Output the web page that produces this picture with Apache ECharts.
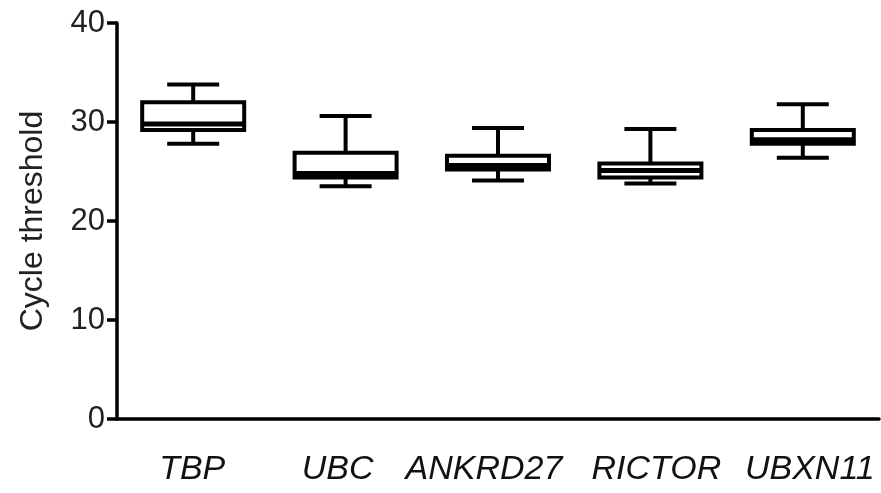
<!DOCTYPE html>
<html>
<head>
<meta charset="utf-8">
<script src="https://cdn.jsdelivr.net/npm/echarts@6/dist/echarts.min.js"></script>
<style>
  html, body { margin: 0; padding: 0; background: #fff; }
  #chart { width: 881px; height: 493px; }
</style>
</head>
<body>
<div id="chart"></div>
<script>
// Reference genes and their Ct distributions (box-and-whisker summary)
const genes = ['TBP', 'UBC', 'ANKRD27', 'RICTOR', 'UBXN11'];
const ctMin    = [27.8, 23.5, 24.1, 23.8, 26.4];
const ctQ1     = [29.2, 24.4, 25.2, 24.4, 27.8];
const ctMedian = [29.8, 24.8, 25.6, 25.1, 28.2];
const ctQ3     = [32.0, 26.9, 26.6, 25.8, 29.2];
const ctMax    = [33.8, 30.6, 29.4, 29.3, 31.8];
const yTicks   = [0, 10, 20, 30, 40];

const boxData = genes.map((g, i) => [i, ctMin[i], ctQ1[i], ctMedian[i], ctQ3[i], ctMax[i]]);

const BOX_W = 102;
const CAP_W = 52;
const LW = 4;

// small horizontal nudges so long gene names keep a gap between them
const labelPad = {
  TBP: [0, 2, 0, 0],
  UBC: [0, 16, 0, 0],
  ANKRD27: [0, 28, 0, 0],
  RICTOR: [0, 0, 0, 12],
  UBXN11: [0, 0, 0, 14]
};
const labelBase = { fontFamily: 'Liberation Sans', fontStyle: 'italic', fontSize: 34, color: '#111' };
const rich = {};
genes.forEach((g, i) => { rich['g' + i] = Object.assign({ padding: labelPad[g] }, labelBase); });

function renderBox(params, api) {
  const idx = api.value(0);
  const pMin = api.coord([idx, api.value(1)]);
  const pQ1  = api.coord([idx, api.value(2)]);
  const pMed = api.coord([idx, api.value(3)]);
  const pQ3  = api.coord([idx, api.value(4)]);
  const pMax = api.coord([idx, api.value(5)]);
  const cx = pQ1[0];
  const st = { stroke: '#000', lineWidth: LW, fill: null };
  return {
    type: 'group',
    children: [
      { type: 'line', shape: { x1: cx, y1: pMax[1], x2: cx, y2: pQ3[1] }, style: st },
      { type: 'line', shape: { x1: cx, y1: pQ1[1], x2: cx, y2: pMin[1] }, style: st },
      { type: 'line', shape: { x1: cx - CAP_W / 2, y1: pMax[1], x2: cx + CAP_W / 2, y2: pMax[1] }, style: st },
      { type: 'line', shape: { x1: cx - CAP_W / 2, y1: pMin[1], x2: cx + CAP_W / 2, y2: pMin[1] }, style: st },
      { type: 'rect', shape: { x: cx - BOX_W / 2, y: pQ3[1], width: BOX_W, height: pQ1[1] - pQ3[1] },
        style: { stroke: '#000', lineWidth: LW, fill: '#fff' } },
      { type: 'line', shape: { x1: cx - BOX_W / 2, y1: pMed[1], x2: cx + BOX_W / 2, y2: pMed[1] },
        style: { stroke: '#000', lineWidth: 5 } }
    ]
  };
}

const chart = echarts.init(document.getElementById('chart'), null, { renderer: 'canvas' });
chart.setOption({
  backgroundColor: '#fff',
  animation: false,
  grid: { left: 117, right: 2, top: 23, bottom: 74 },
  xAxis: {
    type: 'category',
    data: genes,
    boundaryGap: true,
    axisLine: { lineStyle: { color: '#000', width: 3.5 } },
    axisTick: { alignWithLabel: true, length: 11, lineStyle: { color: '#000', width: 3.5 } },
    axisLabel: {
      color: '#111', fontFamily: 'Liberation Sans', fontStyle: 'italic',
      fontSize: 34, margin: 34, interval: 0,
      formatter: (v, i) => '{g' + i + '|' + v + '}',
      rich: rich
    },
    splitLine: { show: false }
  },
  yAxis: {
    type: 'value',
    min: yTicks[0],
    max: yTicks[yTicks.length - 1],
    interval: 10,
    name: 'Cycle threshold',
    nameLocation: 'middle',
    nameGap: 68,
    nameTextStyle: { color: '#222', fontFamily: 'Liberation Sans', fontSize: 32 },
    axisLine: { show: true, lineStyle: { color: '#000', width: 3.5 } },
    axisTick: { show: true, length: 10, lineStyle: { color: '#000', width: 3.5 } },
    axisLabel: { color: '#222', fontFamily: 'Liberation Sans', fontSize: 31, margin: 12 },
    splitLine: { show: false }
  },
  series: [{
    type: 'custom',
    renderItem: renderBox,
    encode: { x: 0, y: [1, 2, 3, 4, 5] },
    data: boxData
  }]
});
</script>
</body>
</html>
